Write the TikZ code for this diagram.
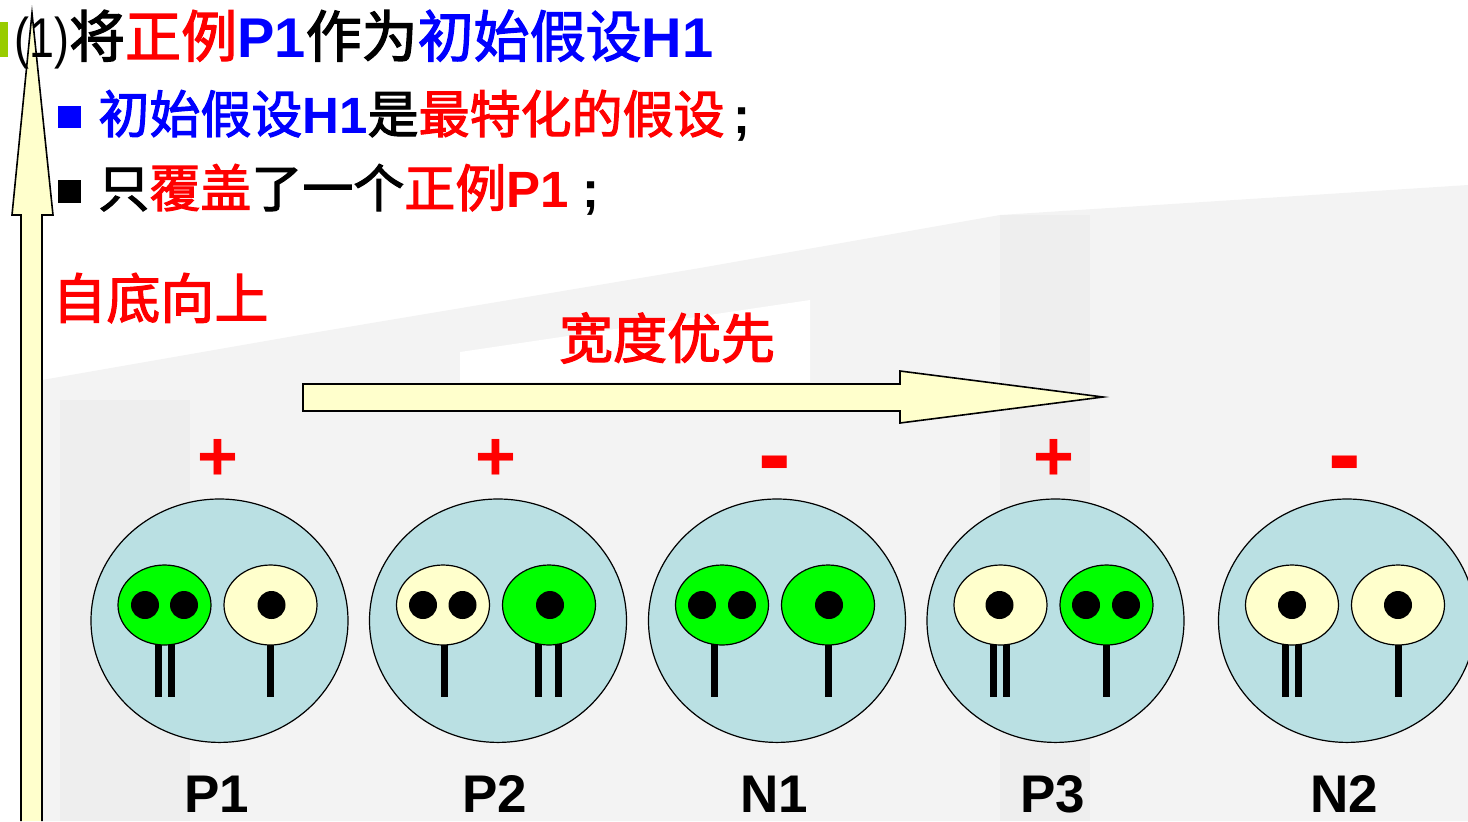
\documentclass[tikz,border=0pt]{standalone}
\usepackage{fontspec}
\usepackage{tikz}
\usetikzlibrary{positioning}
\setmainfont{Liberation Sans}
\newfontfamily\cjk[FakeBold=2.2]{Noto Sans CJK SC}
\definecolor{Body}{HTML}{BAE0E3}
\definecolor{Lime}{HTML}{00FF00}
\definecolor{Cream}{HTML}{FFFFCC}
\definecolor{Hot}{HTML}{FF0000}
\definecolor{Deep}{HTML}{0000FF}
\definecolor{Leaf}{HTML}{99CC00}
\definecolor{Haze}{HTML}{F3F3F3}
\definecolor{HazeDark}{HTML}{EEEEEE}

\newcommand{\zh}[1]{{\cjk #1}}
\newcommand{\dash}{\raisebox{-4.5pt}{\scalebox{1.4}[1.5]{-}}}
% one eye of a specimen: x, fill, pupil offsets, leg offsets
\newcommand{\drawEye}[4]{%
  \foreach \lx in #4 \draw[leg] ({#1+\lx},644) -- ({#1+\lx},697);
  \draw[eye,fill=#2] (#1,605) ellipse [x radius=23.25pt, y radius=20pt];
  \foreach \px in #3 \fill ({#1+\px},605) circle [radius=7pt];
}

\begin{document}
\begin{tikzpicture}[x=0.5pt,y=-0.5pt,
    body/.style={fill=Body,draw=black,line width=0.6pt},
    eye/.style={draw=black,line width=0.6pt},
    leg/.style={line width=3.5pt},
    block/.style={fill=Cream,draw=black,line width=0.8pt},
    line/.style={anchor=base west,inner sep=0pt},
    zhlabel/.style={text=Hot,inner sep=0pt,font=\cjk\fontsize{27}{30}\selectfont},
    sign/.style={anchor=base,inner sep=0pt,text=Hot,font=\bfseries\fontsize{35}{35}\selectfont},
    tag/.style={anchor=base,inner sep=0pt,font=\bfseries\fontsize{26.5}{30}\selectfont}]
  \useasboundingbox (0,0) rectangle (1468,821);
  \clip (0,0) rectangle (1468,821);
  % faded backdrop
  \fill[Haze] (42,380) -- (300,335) -- (700,268) -- (1000,215) -- (1468,185) -- (1468,821) -- (42,821) -- cycle;
  \fill[white] (460,352) -- (810,300) -- (810,382) -- (460,382) -- cycle;
  \fill[HazeDark] (1000,215) rectangle (1090,821);
  \fill[HazeDark] (60,400) rectangle (190,821);

  % direction arrows
  \draw[block] (21,821) -- (21,215) -- (12,215) -- (32,13) -- (53,215) -- (42,215) -- (42,821);
  \draw[block] (303,384) -- (900,384) -- (900,371) -- (1103,397) -- (900,423) -- (900,411) -- (303,411) -- cycle;

  % heading and bullets
  \fill[Leaf] (0,22) rectangle (8,57);
  \node[line,font=\fontsize{28}{30}\selectfont] (step1) at (14,57)
    {\scalebox{0.8}[1]{(1)}\zh{将}\textcolor{Hot}{\zh{正例}}\textcolor{Deep}{\textbf{P1}}\zh{作为}\textcolor{Deep}{\zh{初始假设}\textbf{H1}}};
  \fill[Deep] (58,106) rectangle (81,128);
  \node[line,font=\fontsize{25.5}{30}\selectfont] (fact1) at (98,133)
    {\textcolor{Deep}{\zh{初始假设}\textbf{H1}}\zh{是}\textcolor{Hot}{\zh{最特化的假设}}\,\textbf{;}};
  \fill[black] (58,180) rectangle (81,203);
  \node[line,font=\fontsize{25.5}{30}\selectfont] (fact2) at (98,207)
    {\zh{只}\textcolor{Hot}{\zh{覆盖}}\zh{了一个}\textcolor{Hot}{\zh{正例}\textbf{P1}} \textbf{;}};

  \node[zhlabel,anchor=west] (upward) at (52,298) {自底向上};
  \node[zhlabel] (breadth) at (667,338) {宽度优先};

  % specimens: x / sign / name / left eye / right eye
  \foreach \cx/\sg/\nm/\lc/\lp/\ll/\rc/\rp/\rl in {
      219.5/+/P1/Lime/{-19.5,19.5}/{-6.5,6.5}/Cream/{1}/{0},
      498/+/P2/Cream/{-20,19.5}/{1}/Lime/{1}/{-11,9.5},
      777/\dash/N1/Lime/{-20,20}/{-7.5}/Lime/{1}/{0},
      1055.5/+/P3/Cream/{-1}/{-7.5,6}/Lime/{-20.5,19.5}/{0},
      1347/\dash/N2/Cream/{0}/{-6.5,6.5}/Cream/{0}/{0}} {
    \draw[body] (\cx,620.7) ellipse [x radius=64.25pt, y radius=60.85pt];
    \drawEye{\cx-55}{\lc}{\lp}{\ll}
    \drawEye{\cx+51}{\rc}{\rp}{\rl}
    \node[sign] (sign\nm) at (\cx-2,480) {\sg};
    \node[tag] (name\nm) at (\cx-3,812) {\nm};
  }
\end{tikzpicture}
\end{document}
